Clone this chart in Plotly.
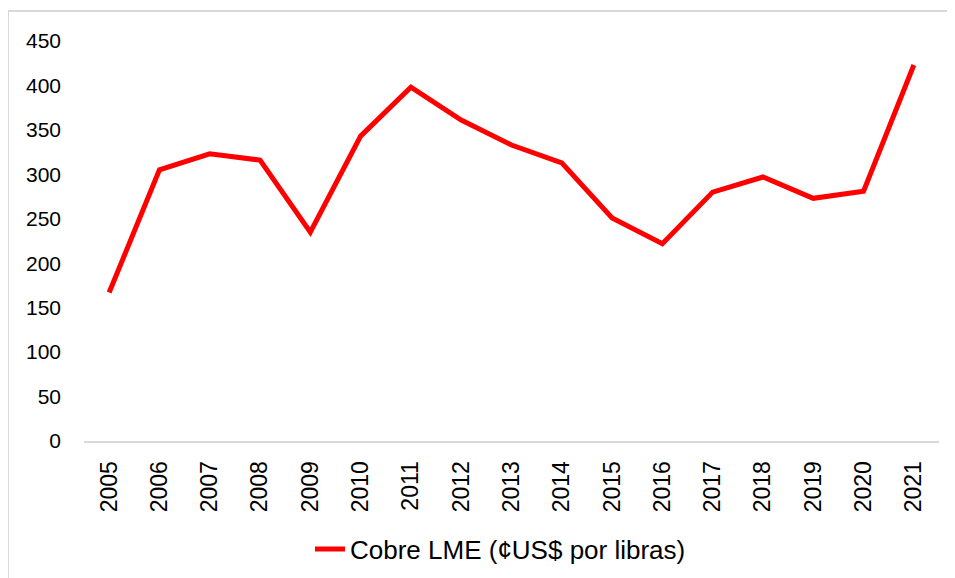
import plotly.graph_objects as go

years = ["2005", "2006", "2007", "2008", "2009", "2010", "2011", "2012", "2013",
         "2014", "2015", "2016", "2017", "2018", "2019", "2020", "2021"]
cobre = [167, 305, 323, 316, 235, 343, 398, 361, 333, 313, 251, 222, 280, 297, 273, 281, 423]
series_name = "Cobre LME (¢US$ por libras)"
y_ticks = [0, 50, 100, 150, 200, 250, 300, 350, 400, 450]

fig = go.Figure()
fig.add_trace(go.Scatter(
    x=years, y=cobre, mode="lines", name=series_name,
    line=dict(color="#FF0000", width=5),
))

# page body has an 8px margin; compensate so the screen layout matches
OFF = 8
W, H = 955, 578
L, T = 84 - OFF, 41 - OFF
R = W - (939 - OFF)
B = H - (441 - OFF)
pw, ph = W - L - R, H - T - B

def px_x(sx):
    return (sx - OFF - L) / pw

def px_y(sy):
    return (T + ph - (sy - OFF)) / ph

fig.update_layout(
    width=W, height=H,
    margin=dict(l=L, r=R, t=T, b=B, pad=0),
    paper_bgcolor="white", plot_bgcolor="white",
    font=dict(family="Liberation Sans, Arial, sans-serif", color="#000000"),
    showlegend=True,
    legend=dict(orientation="h", x=px_x(310), xanchor="left",
                y=px_y(549), yanchor="middle",
                font=dict(size=26), bgcolor="rgba(0,0,0,0)"),
    xaxis=dict(type="category", range=[-0.5, 16.5], showgrid=False,
               showline=True, linecolor="#d9d9d9", linewidth=2,
               ticks="", tickangle=-90, tickfont=dict(size=23),
               ticklabelstandoff=9, zeroline=False, fixedrange=True),
    yaxis=dict(range=[0, 450], tickvals=y_ticks, showgrid=False,
               showline=False, ticks="", tickfont=dict(size=21),
               ticklabelstandoff=22, zeroline=False, fixedrange=True),
    shapes=[dict(type="rect", xref="paper", yref="paper",
                 x0=px_x(8), x1=1.2, y0=-0.5, y1=px_y(11),
                 line=dict(color="#d9d9d9", width=2), fillcolor="rgba(0,0,0,0)",
                 layer="below")],
)

fig.write_html("out.html")
